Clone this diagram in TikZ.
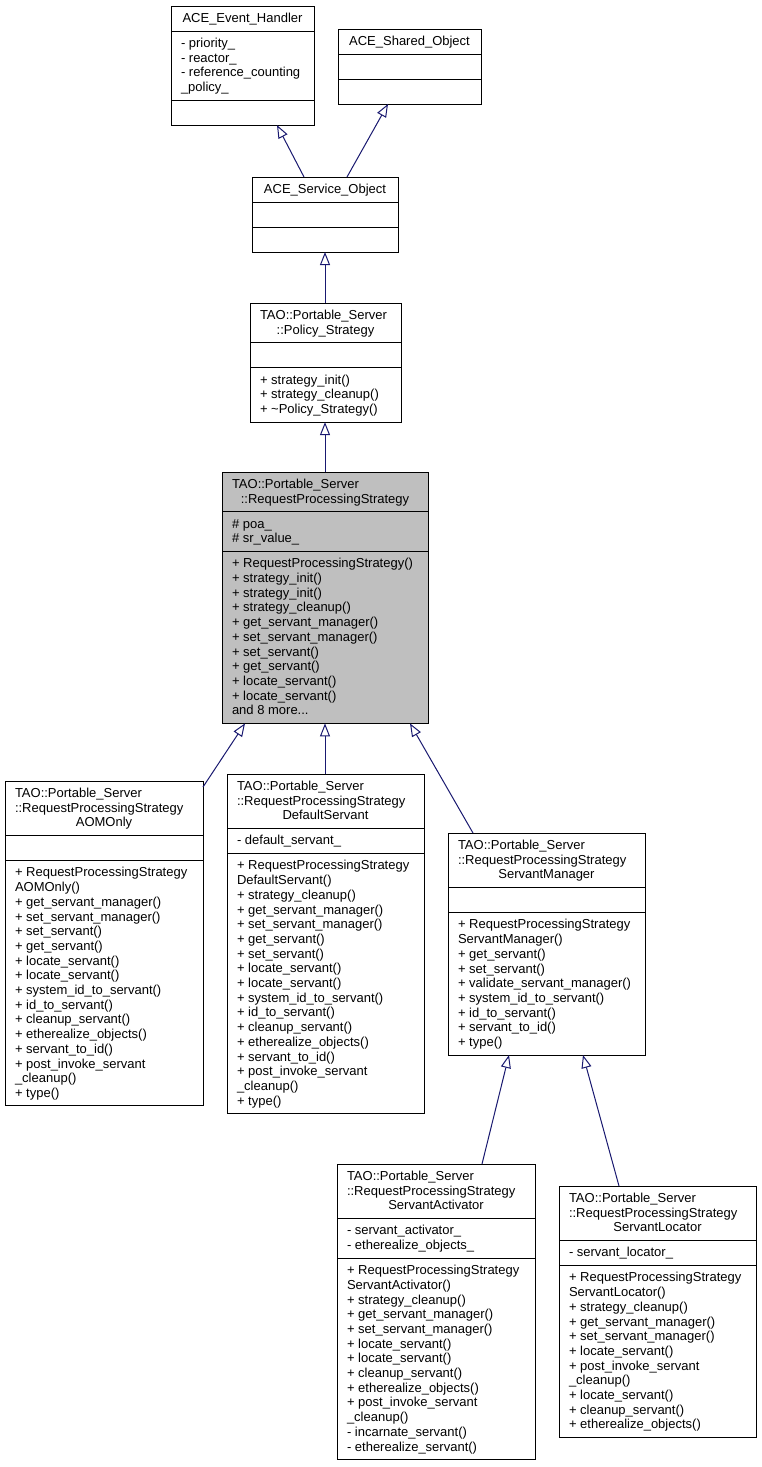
\documentclass[tikz,border=0pt]{standalone}
\usepackage{fontspec}
\setmainfont{Liberation Sans}
\usetikzlibrary{arrows.meta}
\definecolor{edgeblue}{RGB}{25,25,112}
\definecolor{rpsgray}{RGB}{191,191,191}
\tikzset{
  boxfill/.style={fill=white},
  umlbox/.style={draw=black, line width=1pt, inner sep=0pt, outer sep=0pt, rectangle, boxfill},
  umlsep/.style={draw=black, line width=1pt},
  umltext/.style={inner sep=0pt, outer sep=0pt, align=left, font=\fontsize{13}{14.7}\selectfont, anchor=north west},
  inherit/.style={draw=edgeblue, line width=1pt, -{Triangle[length=13pt, width=10pt, fill=white]}},
}
\newcommand\mkctr[1]{\hbox to\boxtw{\hfil#1\hfil}}
\newcommand\umlclass[9]{%
  \pgfmathsetmacro\hA{14.7*max(#4,1)+10.3}%
  \pgfmathsetmacro\hB{14.7*max(#5,1)+10.3}%
  \pgfmathsetmacro\hC{14.7*max(#6,1)+10.3}%
  \pgfmathsetmacro\hAB{\hA+\hB}%
  \pgfmathsetmacro\hT{\hA+\hB+\hC}%
  \pgfmathsetmacro\yA{\hA+6.2}%
  \pgfmathsetmacro\yB{\hAB+6.2}%
  \def\boxtw{\dimexpr#3pt-20pt\relax}%
  \node[umlbox, minimum width=#3pt, minimum height=\hT pt, anchor=north west] (#1) at #2 {};
  \draw[umlsep] ([yshift=-\hA pt]#1.north west) -- ([yshift=-\hA pt]#1.north east);
  \draw[umlsep] ([yshift=-\hAB pt]#1.north west) -- ([yshift=-\hAB pt]#1.north east);
  \node[umltext] (#1-t) at ([xshift=10pt, yshift=-6.2pt]#1.north west) {\strut#7};
  \node[umltext] (#1-a) at ([xshift=10pt, yshift=-\yA pt]#1.north west) {\strut#8};
  \node[umltext] (#1-m) at ([xshift=10pt, yshift=-\yB pt]#1.north west) {\strut#9};
}
\begin{document}
\begin{tikzpicture}[x=1pt, y=1pt]
\useasboundingbox (0,0) rectangle (761,-1467);
\fill[white] (0,0) rectangle (761,-1467);

\umlclass{evh}{(171,-6)}{143}{1}{4}{0}%
  {\mkctr{ACE\_Event\_Handler}}%
  {- priority\_\\- reactor\_\\- reference\_counting\\\_policy\_}{}
\umlclass{shr}{(338,-29)}{143}{1}{0}{0}%
  {\mkctr{ACE\_Shared\_Object}}{}{}
\umlclass{svc}{(252,-177)}{146}{1}{0}{0}%
  {\mkctr{ACE\_Service\_Object}}{}{}
\umlclass{pol}{(250,-303)}{151}{2}{0}{3}%
  {TAO::Portable\_Server\\\mkctr{::Policy\_Strategy}}{}%
  {+ strategy\_init()\\+ strategy\_cleanup()\\+ \textasciitilde Policy\_Strategy()}
\begin{scope}[boxfill/.style={fill=rpsgray}]
\umlclass{rps}{(222,-472)}{206}{2}{2}{11}%
  {TAO::Portable\_Server\\\mkctr{::RequestProcessingStrategy}}%
  {\# poa\_\\\# sr\_value\_}%
  {+ RequestProcessingStrategy()\\+ strategy\_init()\\+ strategy\_init()\\+ strategy\_cleanup()\\+ get\_servant\_manager()\\+ set\_servant\_manager()\\+ set\_servant()\\+ get\_servant()\\+ locate\_servant()\\+ locate\_servant()\\and 8 more...}
\end{scope}
\umlclass{aom}{(5,-781)}{198}{3}{0}{16}%
  {TAO::Portable\_Server\\::RequestProcessingStrategy\\\mkctr{AOMOnly}}{}%
  {+ RequestProcessingStrategy\\AOMOnly()\\+ get\_servant\_manager()\\+ set\_servant\_manager()\\+ set\_servant()\\+ get\_servant()\\+ locate\_servant()\\+ locate\_servant()\\+ system\_id\_to\_servant()\\+ id\_to\_servant()\\+ cleanup\_servant()\\+ etherealize\_objects()\\+ servant\_to\_id()\\+ post\_invoke\_servant\\\_cleanup()\\+ type()}
\umlclass{def}{(227,-774)}{197}{3}{1}{17}%
  {TAO::Portable\_Server\\::RequestProcessingStrategy\\\mkctr{DefaultServant}}%
  {- default\_servant\_}%
  {+ RequestProcessingStrategy\\DefaultServant()\\+ strategy\_cleanup()\\+ get\_servant\_manager()\\+ set\_servant\_manager()\\+ get\_servant()\\+ set\_servant()\\+ locate\_servant()\\+ locate\_servant()\\+ system\_id\_to\_servant()\\+ id\_to\_servant()\\+ cleanup\_servant()\\+ etherealize\_objects()\\+ servant\_to\_id()\\+ post\_invoke\_servant\\\_cleanup()\\+ type()}
\umlclass{sm}{(448,-833)}{197}{3}{0}{9}%
  {TAO::Portable\_Server\\::RequestProcessingStrategy\\\mkctr{ServantManager}}{}%
  {+ RequestProcessingStrategy\\ServantManager()\\+ get\_servant()\\+ set\_servant()\\+ validate\_servant\_manager()\\+ system\_id\_to\_servant()\\+ id\_to\_servant()\\+ servant\_to\_id()\\+ type()}
\umlclass{act}{(337,-1164)}{198}{3}{2}{13}%
  {TAO::Portable\_Server\\::RequestProcessingStrategy\\\mkctr{ServantActivator}}%
  {- servant\_activator\_\\- etherealize\_objects\_}%
  {+ RequestProcessingStrategy\\ServantActivator()\\+ strategy\_cleanup()\\+ get\_servant\_manager()\\+ set\_servant\_manager()\\+ locate\_servant()\\+ locate\_servant()\\+ cleanup\_servant()\\+ etherealize\_objects()\\+ post\_invoke\_servant\\\_cleanup()\\- incarnate\_servant()\\- etherealize\_servant()}
\umlclass{loc}{(559,-1186)}{197}{3}{1}{11}%
  {TAO::Portable\_Server\\::RequestProcessingStrategy\\\mkctr{ServantLocator}}%
  {- servant\_locator\_}%
  {+ RequestProcessingStrategy\\ServantLocator()\\+ strategy\_cleanup()\\+ get\_servant\_manager()\\+ set\_servant\_manager()\\+ locate\_servant()\\+ post\_invoke\_servant\\\_cleanup()\\+ locate\_servant()\\+ cleanup\_servant()\\+ etherealize\_objects()}

\draw[inherit] ([xshift=52pt]svc.north west) -- ([xshift=106pt]evh.south west);
\draw[inherit] ([xshift=95pt]svc.north west) -- ([xshift=50pt]shr.south west);
\draw[inherit] ([xshift=75pt]pol.north west) -- ([xshift=73pt]svc.south west);
\draw[inherit] ([xshift=103pt]rps.north west) -- ([xshift=75pt]pol.south west);
\draw[inherit] ([yshift=-6pt]aom.north east) -- ([xshift=23pt]rps.south west);
\draw[inherit] ([xshift=98pt]def.north west) -- ([xshift=103pt]rps.south west);
\draw[inherit] ([xshift=25pt]sm.north west) -- ([xshift=188pt]rps.south west);
\draw[inherit] ([xshift=145pt]act.north west) -- ([xshift=61pt]sm.south west);
\draw[inherit] ([xshift=60pt]loc.north west) -- ([xshift=135pt]sm.south west);
\end{tikzpicture}
\end{document}
